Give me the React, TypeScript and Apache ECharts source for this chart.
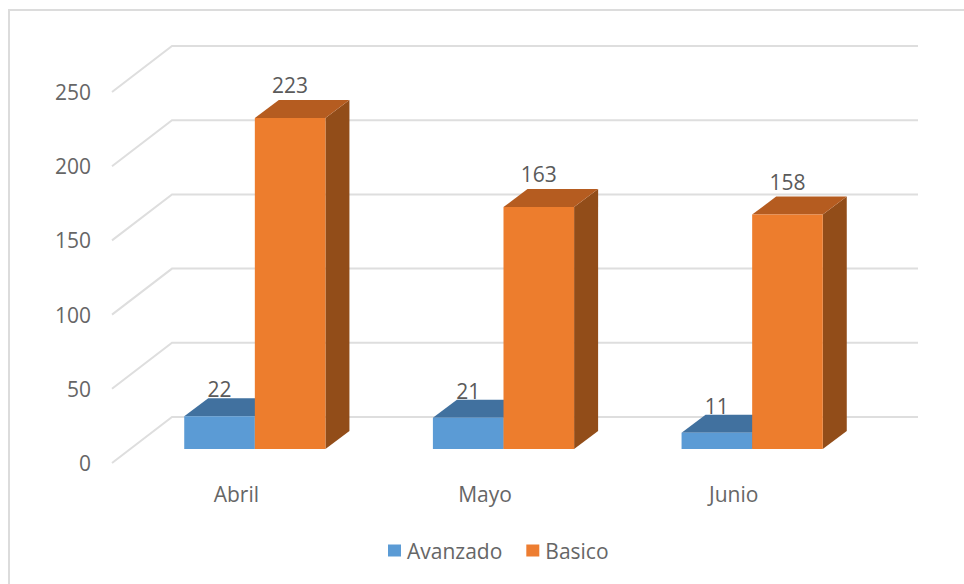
import React, { useEffect, useRef } from "react";
import * as echarts from "echarts";

const categories = ["Abril", "Mayo", "Junio"];
const avanzado = [22, 21, 11];
const basico = [223, 163, 158];
const yTicks = [0, 50, 100, 150, 200, 250];

const FONT = '"Open Sans", sans-serif';
const TEXT = "#666666";
const DX = 18.5, DY = 14; // bar plane offset from the front axis plane
const DEPTH_X = 24, DEPTH_Y = 18; // bar depth
const WALL_X = 60, WALL_Y = 46; // wall depth
const WALL_RIGHT = 918;
const BAR_FRACTION = 70.6 / 248.67;

function barRenderer(side: number, front: string, top: string, right: string, labelGap: number) {
  return (params: any, api: any) => {
    const idx = api.value(0);
    const val = api.value(1);
    const band = api.size([1, 0])[0];
    const w = band * BAR_FRACTION;
    const [cx, y1] = api.coord([idx, val]);
    const [, y0r] = api.coord([idx, 0]);
    const yTop = y1 - DY;
    const yBase = y0r - DY;
    const c = cx + DX;
    const x0 = side < 0 ? c - w : c;
    const x1 = x0 + w;
    return {
      type: "group",
      children: [
        { type: "polygon", shape: { points: [[x1, yTop], [x1 + DEPTH_X, yTop - DEPTH_Y], [x1 + DEPTH_X, yBase - DEPTH_Y], [x1, yBase]] }, style: { fill: right } },
        { type: "polygon", shape: { points: [[x0, yTop], [x0 + DEPTH_X, yTop - DEPTH_Y], [x1 + DEPTH_X, yTop - DEPTH_Y], [x1, yTop]] }, style: { fill: top } },
        { type: "rect", shape: { x: x0, y: yTop, width: w, height: yBase - yTop }, style: { fill: front } },
        { type: "text", z2: 10, style: { text: String(val), x: x0 + w / 2, y: yTop - labelGap, align: "center", verticalAlign: "middle", fill: "#5a5a5a", font: `21px ${FONT}` } },
      ],
    };
  };
}

export default function App() {
  const ref = useRef<HTMLDivElement>(null);
  useEffect(() => {
    const chart = echarts.init(ref.current!, undefined, { renderer: "svg" });
    chart.setOption({
      animation: false,
      backgroundColor: "#ffffff",
      graphic: [
        { type: "polyline", shape: { points: [[9, 584], [9, 10], [964, 10]] }, style: { stroke: "#dcdcdc", lineWidth: 2, fill: "none" } },
      ],
      grid: { left: 112, top: 92, width: 746, height: 371, containLabel: false },
      legend: {
        data: ["Avanzado", "Basico"],
        left: 383,
        top: 535,
        icon: "rect",
        itemWidth: 13,
        itemHeight: 12,
        itemGap: 24,
        textStyle: { color: TEXT, fontFamily: FONT, fontSize: 21, padding: [0, 0, 0, 1] },
      },
      xAxis: {
        type: "category",
        data: categories,
        axisLine: { show: false },
        axisTick: { show: false },
        splitLine: { show: false },
        axisLabel: { color: TEXT, fontFamily: FONT, fontSize: 21, margin: 20 },
      },
      yAxis: {
        type: "value",
        min: 0,
        max: 250,
        interval: 50,
        axisLine: { show: false },
        axisTick: { show: false },
        splitLine: { show: false },
        axisLabel: { color: TEXT, fontFamily: FONT, fontSize: 21, margin: 21, padding: [0, 0, 5, 0] },
      },
      series: [
        {
          type: "custom",
          silent: true,
          z: 1,
          clip: false,
          data: yTicks.map((t) => [0, t]),
          encode: { x: 0, y: 1 },
          renderItem: (params: any, api: any) => {
            const y = api.coord([0, api.value(1)])[1];
            const x = params.coordSys.x;
            return {
              type: "polyline",
              shape: { points: [[x, y], [x + WALL_X, y - WALL_Y], [WALL_RIGHT, y - WALL_Y]] },
              style: { stroke: "#dedede", lineWidth: 2, fill: "none" },
            };
          },
        },
        {
          name: "Avanzado",
          type: "custom",
          z: 2,
          clip: false,
          itemStyle: { color: "#5b9bd5" },
          data: avanzado.map((v, i) => [i, v]),
          encode: { x: 0, y: 1 },
          renderItem: barRenderer(-1, "#5b9bd5", "#41719f", "#3d6b95", 27),
        },
        {
          name: "Basico",
          type: "custom",
          z: 3,
          clip: false,
          itemStyle: { color: "#ed7d31" },
          data: basico.map((v, i) => [i, v]),
          encode: { x: 0, y: 1 },
          renderItem: barRenderer(1, "#ed7d2d", "#b55c20", "#924d19", 33),
        },
      ],
    });
    return () => chart.dispose();
  }, []);
  return <div ref={ref} style={{ position: "fixed", left: 0, top: 0, width: 964, height: 584 }} />;
}
